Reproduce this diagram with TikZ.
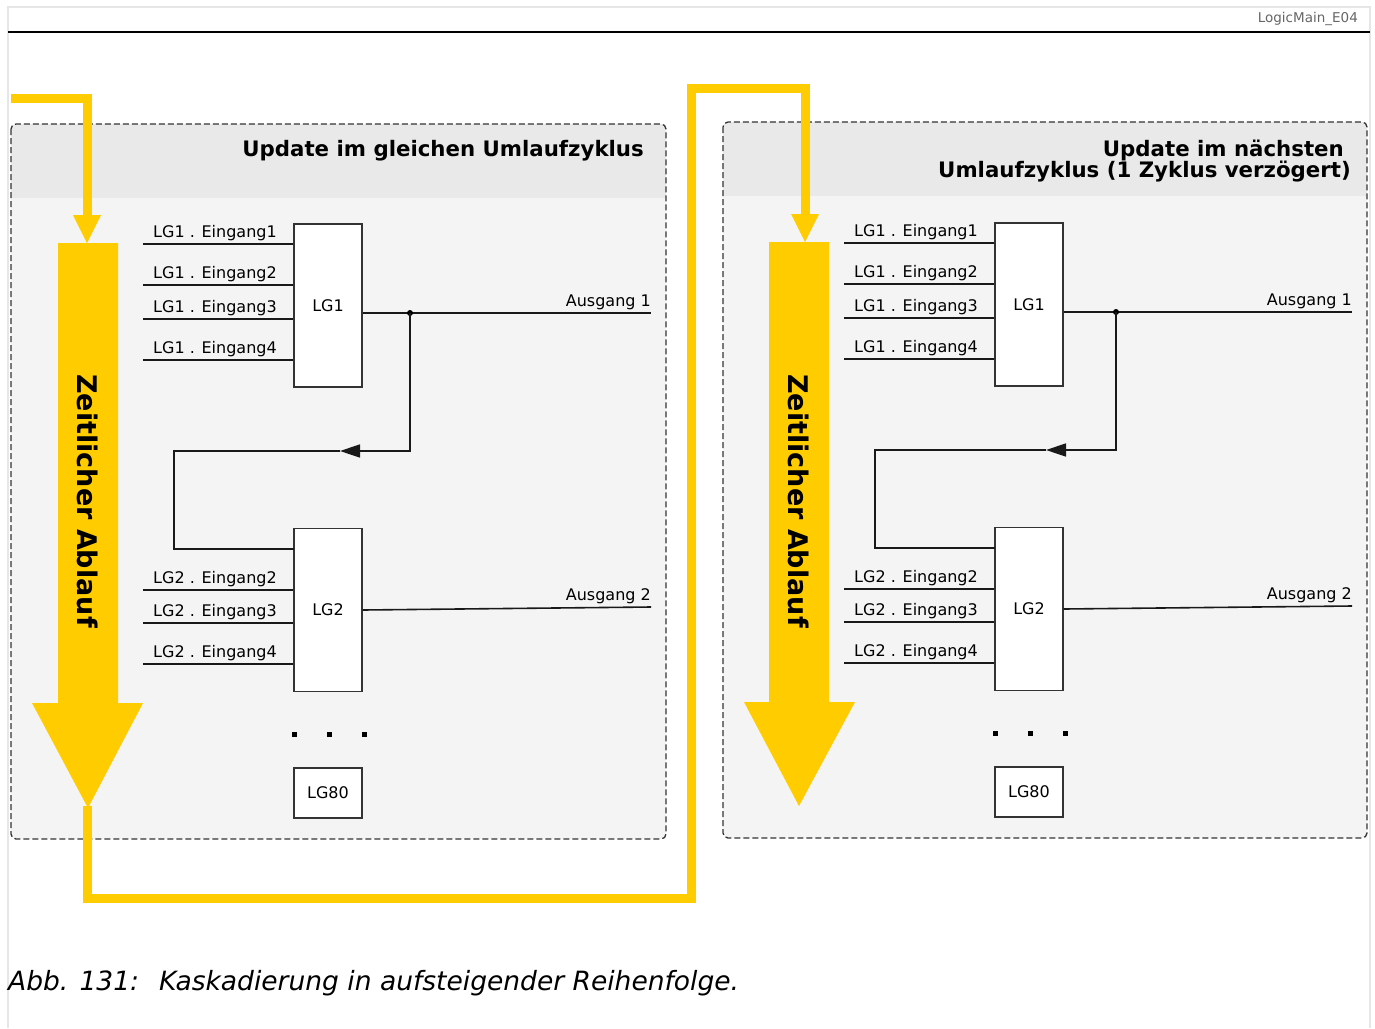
\documentclass[tikz,border=0pt]{standalone}
\usepackage{fontspec}
\setmainfont{DejaVu Sans}
\usetikzlibrary{arrows.meta}
\definecolor{ablaufgelb}{HTML}{FFCC00}
\definecolor{panelgrau}{HTML}{F4F4F4}
\definecolor{kopfgrau}{HTML}{E9E9E9}
\definecolor{rahmengrau}{HTML}{E6E6E6}
\newcommand{\pxfont}[1]{\fontsize{#1}{#1}\selectfont}
\begin{document}
\begin{tikzpicture}[x=1pt,y=-1pt,
  lgbox/.style={draw=black!80,fill=white,line width=1.4pt,minimum width=68pt,inner sep=0pt,font=\pxfont{16}},
  sig/.style={black!90,line width=1.6pt},
  lbl/.style={inner sep=0pt,font=\pxfont{16}},
  panel/.style={draw=black!80,line width=1.3pt,dash pattern=on 6pt off 3pt,rounded corners=5pt},
  gelbpfad/.style={ablaufgelb,line width=9pt},
  ablauftext/.style={rotate=-90,inner sep=0pt,font=\pxfont{27}\bfseries},
  titel/.style={anchor=base east,inner sep=0pt,font=\pxfont{21.3}\bfseries}]
  \useasboundingbox (0,0) rectangle (1375,1028);
  \fill[white] (0,0) rectangle (1375,1028);
  \draw[rahmengrau,line width=2pt] (8,1028) -- (8,7) -- (1370,7) -- (1370,1028);
  \draw[line width=2.6pt] (8,32) -- (1370,32);
  \node[anchor=base east,inner sep=0pt,text=black!60,font=\pxfont{13.5}] (kennung) at (1358,22) {LogicMain\_E04};
  \begin{scope}
    \clip[rounded corners=5pt] (11,124) rectangle (666,839);
    \fill[panelgrau] (11,124) rectangle (666,839);
    \fill[kopfgrau] (11,124) rectangle (666,198);
  \end{scope}
  \draw[panel] (11,124) rectangle (666,839);
  \begin{scope}
    \clip[rounded corners=5pt] (723,122) rectangle (1367,838);
    \fill[panelgrau] (723,122) rectangle (1367,838);
    \fill[kopfgrau] (723,122) rectangle (1367,196);
  \end{scope}
  \draw[panel] (723,122) rectangle (1367,838);
  \node[titel] (titell) at (644,156) {Update im gleichen Umlaufzyklus};
  \node[titel] (titelr1) at (1344,156) {Update im nächsten};
  \node[titel] (titelr2) at (1351,177) {Umlaufzyklus (1 Zyklus verzögert)};
  \foreach \p/\dx/\dy/\sx in {l/0/0/410,r/701/-1/415} {
    \begin{scope}[shift={(\dx,\dy)}]
      \node[lgbox,minimum height=163pt] (lg1\p) at (328,305.5) {LG1};
      \node[lgbox,minimum height=163pt] (lg2\p) at (328,610) {LG2};
      \node[lgbox,minimum height=50pt] (lg80\p) at (328,793) {LG80};
      \foreach \y/\n in {244/1,285/2,319/3,360/4} {
        \coordinate (ein1\n\p) at (143,\y);
        \draw[sig] (ein1\n\p) -- (ein1\n\p -| lg1\p.west);
        \node[lbl,anchor=base west] at (153,\y-7) {LG1 . Eingang\n};
      }
      \foreach \y/\n in {590/2,623/3,664/4} {
        \coordinate (ein2\n\p) at (143,\y);
        \draw[sig] (ein2\n\p) -- (ein2\n\p -| lg2\p.west);
        \node[lbl,anchor=base west] at (153,\y-7) {LG2 . Eingang\n};
      }
      \coordinate (aus1\p) at (651,313);
      \coordinate (knoten\p) at (\sx,313);
      \coordinate (pfeil\p) at (\sx-70,451);
      \coordinate (ecke\p) at (174,451);
      \coordinate (rueck\p) at (294,549);
      \coordinate (aus2\p) at (651,607);
      \draw[sig] (aus1\p -| lg1\p.east) -- (aus1\p);
      \fill (knoten\p) circle (3);
      \node[lbl,anchor=base east] (ausl1\p) at (651,306) {Ausgang 1};
      \draw[sig,-{Triangle[length=20pt,width=13pt]}] (knoten\p) |- (pfeil\p);
      \draw[sig] (pfeil\p) -- (ecke\p) |- (rueck\p);
      \draw[sig] (lg2\p.east) -- (aus2\p);
      \node[lbl,anchor=base east] (ausl2\p) at (651,600) {Ausgang 2};
      \foreach \x in {294,329,364}
        \fill (\x-2.5,731.5) rectangle ++(5,5);
    \end{scope}
  }
  \fill[ablaufgelb] (58,243) -- (118,243) -- (118,703) -- (143,703) -- (88,808) -- (32,703) -- (58,703) -- cycle;
  \fill[ablaufgelb] (769,242) -- (829,242) -- (829,702) -- (855,702) -- (799,806) -- (744,702) -- (769,702) -- cycle;
  \node[ablauftext] (ablaufl) at (88,501) {Zeitlicher Ablauf};
  \node[ablauftext] (ablaufr) at (799,501) {Zeitlicher Ablauf};
  \coordinate (startl) at (11,98);
  \coordinate (kopfl) at (87,215);
  \coordinate (spitzel) at (87,806);
  \coordinate (kopfr) at (805,214);
  \draw[gelbpfad] (startl) -| (kopfl);
  \fill[ablaufgelb] (73,215) -- (101,215) -- (87,243) -- cycle;
  \draw[gelbpfad] (spitzel) -- (87,898) -| (691,88) -| (kopfr);
  \fill[ablaufgelb] (791,214) -- (819,214) -- (805,242) -- cycle;
  \node[anchor=base west,inner sep=0pt,font=\pxfont{26.5}\itshape] (bildunterschrift) at (8,990) {Abb. 131:\hspace{20pt}Kaskadierung in aufsteigender Reihenfolge.};
\end{tikzpicture}
\end{document}
